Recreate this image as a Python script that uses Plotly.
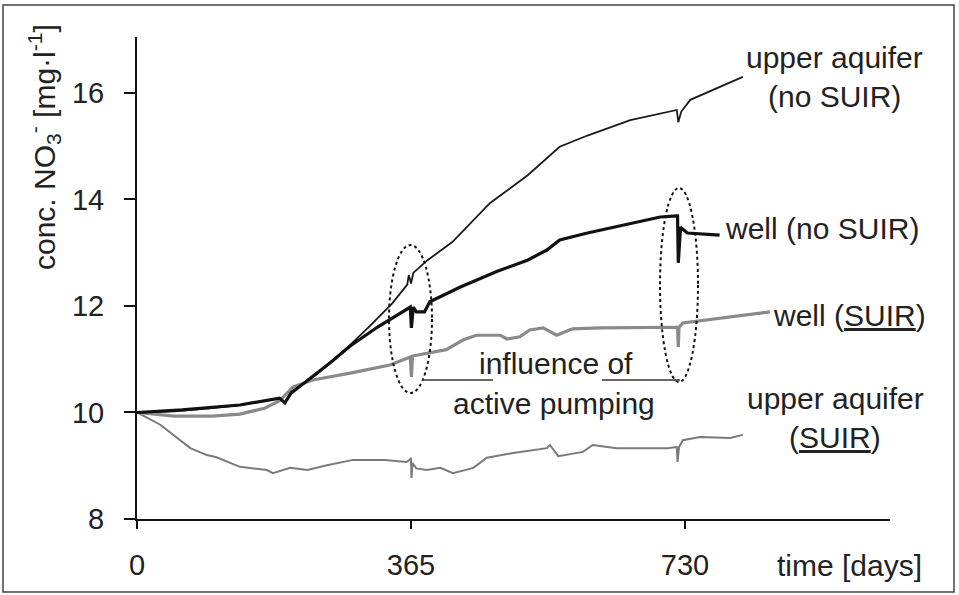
import plotly.graph_objects as go

# ---- series: time [days] and NO3- concentration [mg/l] ----
ua_nosuir_days = [0, 50, 100, 137, 170, 190, 197, 205, 240, 284, 310, 340, 360, 362, 365, 368,
                  387, 420, 470, 520, 563, 600, 657, 719, 721, 725, 737, 770, 807]
ua_nosuir_vals = [10.0, 10.02, 10.08, 10.14, 10.22, 10.27, 10.18, 10.38, 10.72, 11.27, 11.62, 12.05,
                  12.4, 12.58, 12.42, 12.62, 12.86, 13.2, 13.93, 14.45, 14.99, 15.2, 15.49, 15.68,
                  15.45, 15.65, 15.87, 16.07, 16.3]

well_nosuir_days = [0, 60, 137, 190, 197, 205, 257, 284, 320, 364, 365.5, 368, 372, 383, 390,
                    430, 480, 520, 546, 563, 600, 661, 697, 719, 720, 721, 724, 733, 776]
well_nosuir_vals = [10.0, 10.05, 10.14, 10.27, 10.18, 10.36, 10.93, 11.25, 11.6, 11.98, 11.59, 11.98,
                    11.89, 11.89, 12.08, 12.35, 12.65, 12.86, 13.05, 13.24, 13.37, 13.56, 13.67,
                    13.69, 13.69, 12.81, 13.48, 13.37, 13.33]

well_suir_days = [0, 50, 100, 137, 170, 190, 208, 234, 284, 337, 364, 365.5, 367, 394, 412, 434,
                  452, 484, 493, 510, 523, 541, 559, 580, 617, 719, 720, 721, 722, 727, 794, 843]
well_suir_vals = [10.0, 9.93, 9.93, 9.97, 10.08, 10.22, 10.48, 10.61, 10.74, 10.89, 11.04, 10.67,
                  11.06, 11.14, 11.18, 11.36, 11.45, 11.45, 11.38, 11.42, 11.55, 11.59, 11.45, 11.57,
                  11.59, 11.6, 11.6, 11.23, 11.6, 11.68, 11.8, 11.89]

ua_suir_days = [0, 31, 71, 93, 106, 137, 173, 181, 204, 227, 253, 288, 330, 359, 364, 365, 365.5,
                367, 372, 386, 404, 421, 448, 466, 501, 546, 550, 561, 594, 607, 639, 706, 719,
                720, 722, 727, 750, 790, 807]
ua_suir_vals = [10.0, 9.77, 9.33, 9.2, 9.16, 8.98, 8.92, 8.86, 8.96, 8.92, 9.01, 9.11, 9.11, 9.07,
                9.12, 9.15, 8.77, 9.05, 8.95, 8.92, 8.96, 8.86, 8.96, 9.15, 9.24, 9.33, 9.39, 9.18,
                9.26, 9.39, 9.33, 9.33, 9.35, 9.07, 9.35, 9.48, 9.54, 9.52, 9.58]

x_ticks = [0, 365, 730]
y_ticks = [8, 10, 12, 14, 16]

# ---- layout geometry (pixels) ----
W, H = 959, 595
L, R, T, B = 137, 69, 37, 76
PW, PH = W - L - R, H - T - B

FONT = "Liberation Sans, Arial, sans-serif"
TXT = "#222222"
FS = 30      # curve labels / notes
FS_TICK = 29


def paper(px, py):
    """Pixel position on the page -> paper coordinates."""
    return (px - L) / PW, (H - B - py) / PH


fig = go.Figure()

fig.add_trace(go.Scatter(x=ua_suir_days, y=ua_suir_vals, mode="lines",
                         line=dict(color="#7a7a7a", width=2), name="upper aquifer (SUIR)"))
fig.add_trace(go.Scatter(x=well_suir_days, y=well_suir_vals, mode="lines",
                         line=dict(color="#8a8a8a", width=3.2), name="well (SUIR)"))
fig.add_trace(go.Scatter(x=ua_nosuir_days, y=ua_nosuir_vals, mode="lines",
                         line=dict(color="#1a1a1a", width=1.8), name="upper aquifer (no SUIR)"))
fig.add_trace(go.Scatter(x=well_nosuir_days, y=well_nosuir_vals, mode="lines",
                         line=dict(color="#111111", width=3.2), name="well (no SUIR)"))

annotations = []


def label(text, px, py, size=FS):
    x, y = paper(px, py)
    annotations.append(dict(text=text, x=x, y=y, xref="paper", yref="paper",
                            xanchor="center", yanchor="middle", showarrow=False,
                            font=dict(family=FONT, size=size, color=TXT)))


label("upper aquifer", 834, 58)
label("(no SUIR)", 834, 96)
label("well (no SUIR)", 822, 228)
label("well (<u>SUIR</u>)", 849, 315)
label("upper aquifer", 835, 398)
label("(<u>SUIR</u>)", 835, 438)
label("influence of", 556, 363)
label("active pumping", 554, 403)
label("time [days]", 849, 565)

# rotated y-axis title
yx, yy = paper(44, 147)
annotations.append(dict(text="conc. NO<sub>3</sub><sup>-</sup> [mg·l<sup>-1</sup>]",
                        x=yx, y=yy, xref="paper", yref="paper", textangle=-90,
                        xanchor="center", yanchor="middle", showarrow=False,
                        font=dict(family=FONT, size=30, color=TXT)))

shapes = []


def pline(x0, y0, x1, y1, **kw):
    a, b = paper(x0, y0)
    c, d = paper(x1, y1)
    shapes.append(dict(type="line", xref="paper", yref="paper", x0=a, y0=b, x1=c, y1=d, **kw))


def pellipse(x0, y0, x1, y1):
    a, b = paper(x0, y1)
    c, d = paper(x1, y0)
    shapes.append(dict(type="circle", xref="paper", yref="paper", x0=a, y0=b, x1=c, y1=d,
                       line=dict(color="#111111", width=2, dash="dot")))


# dotted ellipses marking the pumping events
pellipse(389, 245, 432, 393)
pellipse(660, 188, 698, 382)

# leader lines towards the "influence of active pumping" note
pline(422, 380, 493, 380, line=dict(color="#333333", width=1.5))
pline(602, 380, 680, 380, line=dict(color="#333333", width=1.5))

# outer frame
shapes.append(dict(type="rect", xref="paper", yref="paper",
                   x0=paper(3, 0)[0], x1=paper(954, 0)[0],
                   y0=paper(0, 592)[1], y1=paper(0, 5)[1],
                   line=dict(color="#444444", width=1.5), layer="below"))

fig.update_layout(
    width=W, height=H, autosize=False,
    margin=dict(l=L, r=R, t=T, b=B, pad=0),
    paper_bgcolor="white", plot_bgcolor="white",
    showlegend=False,
    annotations=annotations,
    shapes=shapes,
    font=dict(family=FONT, size=FS, color=TXT),
    xaxis=dict(range=[0, 1003], tickvals=x_ticks, ticktext=[str(v) for v in x_ticks],
               showgrid=False, zeroline=False, showline=True, linecolor="#111111", linewidth=2,
               ticks="outside", ticklen=8, tickwidth=2, tickcolor="#111111",
               ticklabelstandoff=11,
               tickfont=dict(family=FONT, size=FS_TICK, color=TXT)),
    yaxis=dict(range=[8, 17.05], tickvals=y_ticks, ticktext=[str(v) for v in y_ticks],
               showgrid=False, zeroline=False, showline=True, linecolor="#111111", linewidth=2,
               ticks="outside", ticklen=11, tickwidth=2, tickcolor="#111111",
               ticklabelstandoff=14,
               tickfont=dict(family=FONT, size=FS_TICK, color=TXT)),
)

fig.write_html("out.html")
